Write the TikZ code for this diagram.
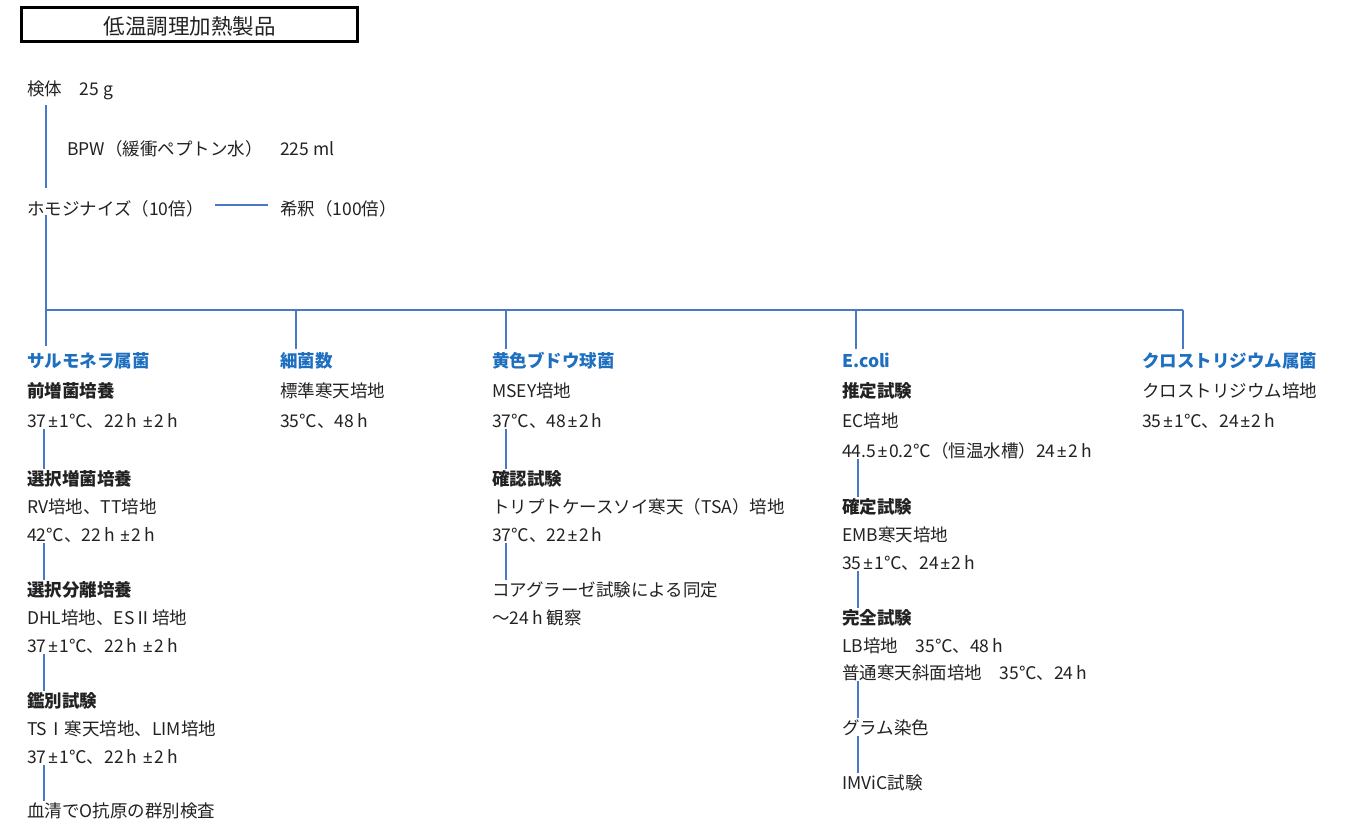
\documentclass[tikz,border=0pt]{standalone}
\usepackage{fontspec}
\setmainfont{Noto Sans CJK JP}
\newfontfamily\pmfont{Noto Sans}
\newcommand\pmx{\kern1.5pt{\pmfont ±}\kern1.5pt}
\newcommand\hh{\kern3pt h}
\definecolor{textc}{HTML}{222222}
\definecolor{headc}{HTML}{1E6FC0}
\definecolor{linec}{HTML}{4A78C8}
\tikzset{
  txt/.style={anchor=west, inner sep=0pt, text height=0.8em, text depth=0.05em, yshift=-4.5pt,
    font=\fontsize{17.5}{20}\selectfont, text=textc},
  hd/.style={txt, font=\fontsize{17.5}{20}\selectfont\bfseries, text=headc},
  sub/.style={txt, font=\fontsize{17.5}{20}\selectfont\bfseries},
  conn/.style={draw=linec, line width=1.3pt},
}
\begin{document}
\begin{tikzpicture}[x=1pt,y=-1pt]
\useasboundingbox (0,0) rectangle (1351,819);
\node[draw=black, line width=2.8pt, minimum width=336pt, minimum height=34pt, inner sep=0pt,
  text height=19pt, text depth=0pt, font=\fontsize{21.5}{24}\selectfont, text=textc] (title) at (189.5,24.5) {低温調理加熱製品};
\node[txt] (kentai) at (27,87) {検体　25 g};
\node[txt] (bpw) at (67,147) {BPW（緩衝ペプトン水）　225 ml};
\node[txt] (homo) at (27,207) {ホモジナイズ（10倍）};
\node[txt] (kishaku) at (280,207) {希釈（100倍）};
\draw[conn] ([shift={(19pt,-9pt)}]kentai.south west) -- ([shift={(19pt,19pt)}]homo.north west);
\draw[conn] ([xshift=11pt,yshift=6.5pt]homo.east) -- ([xshift=-12pt,yshift=6.5pt]kishaku.west);
% column headers
\node[hd] (sal) at (27,359) {サルモネラ属菌};
\node[hd] (kin) at (280,359) {細菌数};
\node[hd] (sta) at (492,359) {黄色ブドウ球菌};
\node[hd] (eco) at (842,359) {E.coli};
\node[hd] (clo) at (1142,359) {クロストリジウム属菌};
\coordinate (busL) at (46,310);
\coordinate (busR) at (1183,310);
\draw[conn] ([shift={(19pt,1pt)}]homo.south west) -- (busL) -- (busR);
\draw[conn] (busL) -- ([shift={(19pt,13pt)}]sal.north west);
\draw[conn] (busL -| 296,0) -- ([shift={(16pt,10pt)}]kin.north west);
\draw[conn] (busL -| 506,0) -- ([shift={(14pt,10pt)}]sta.north west);
\draw[conn] (busL -| 856,0) -- ([shift={(14pt,10pt)}]eco.north west);
\draw[conn] (busR) -- ([shift={(41pt,10pt)}]clo.north west);
% Salmonella
\node[sub] (s1) at (27,389) {前増菌培養};
\node[txt] (s2) at (27,419) {37\pmx 1℃、22\hh{} \pmx 2\hh};
\node[sub] (s3) at (27,477) {選択増菌培養};
\node[txt] (s4) at (27,505) {RV培地、TT培地};
\node[txt] (s5) at (27,533) {42℃、22\hh{} \pmx 2\hh};
\node[sub] (s6) at (27,588) {選択分離培養};
\node[txt] (s7) at (27,616) {DHL培地、ESⅡ培地};
\node[txt] (s8) at (27,644) {37\pmx 1℃、22\hh{} \pmx 2\hh};
\node[sub] (s9) at (27,699) {鑑別試験};
\node[txt] (s10) at (27,727) {TSⅠ寒天培地、LIM培地};
\node[txt] (s11) at (27,755) {37\pmx 1℃、22\hh{} \pmx 2\hh};
\node[txt] (s12) at (27,809) {血清でO抗原の群別検査};
\foreach \a/\b in {s2/s3, s5/s6, s8/s9, s11/s12}
  \draw[conn] ([shift={(17pt,-1pt)}]\a.south west) -- ([shift={(17pt,8pt)}]\b.north west);
% bacteria count
\node[txt] (k1) at (280,389) {標準寒天培地};
\node[txt] (k2) at (280,419) {35℃、48\hh};
% Staph
\node[txt] (t1) at (492,389) {MSEY培地};
\node[txt] (t2) at (492,419) {37℃、48\pmx 2\hh};
\node[sub] (t3) at (492,477) {確認試験};
\node[txt] (t4) at (492,505) {トリプトケースソイ寒天（TSA）培地};
\node[txt] (t5) at (492,533) {37℃、22\pmx 2\hh};
\node[txt] (t6) at (492,588) {コアグラーゼ試験による同定};
\node[txt] (t7) at (492,616) {～24\hh{} 観察};
\foreach \a/\b in {t2/t3, t5/t6}
  \draw[conn] ([shift={(14pt,-1pt)}]\a.south west) -- ([shift={(14pt,8pt)}]\b.north west);
% E.coli
\node[sub] (e1) at (842,389) {推定試験};
\node[txt] (e2) at (842,419) {EC培地};
\node[txt] (e3) at (842,449) {44.5\pmx 0.2℃（恒温水槽）24\pmx 2\hh};
\node[sub] (e4) at (842,505) {確定試験};
\node[txt] (e5) at (842,533) {EMB寒天培地};
\node[txt] (e6) at (842,561) {35\pmx 1℃、24\pmx 2\hh};
\node[sub] (e7) at (842,616) {完全試験};
\node[txt] (e8) at (842,644) {LB培地　35℃、48\hh};
\node[txt] (e9) at (842,671) {普通寒天斜面培地　35℃、24\hh};
\node[txt] (e10) at (842,726) {グラム染色};
\node[txt] (e11) at (842,781) {IMViC試験};
\foreach \a/\b in {e3/e4, e6/e7, e9/e10, e10/e11}
  \draw[conn] ([shift={(16pt,-1pt)}]\a.south west) -- ([shift={(16pt,8pt)}]\b.north west);
% Clostridium
\node[txt] (c1) at (1142,389) {クロストリジウム培地};
\node[txt] (c2) at (1142,419) {35\pmx 1℃、24\pmx 2\hh};
\end{tikzpicture}
\end{document}
